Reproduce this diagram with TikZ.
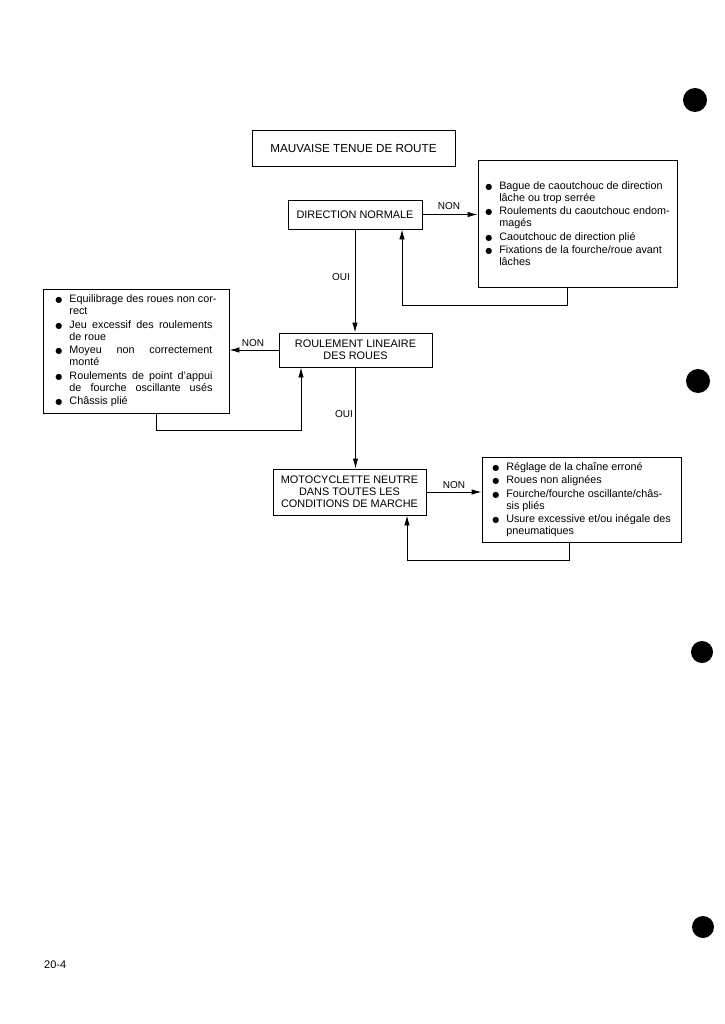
\documentclass[tikz,border=0pt]{standalone}
\usepackage{fontspec}
\setmainfont{Liberation Sans}
\newfontfamily\dejavu{DejaVu Sans}
\usetikzlibrary{arrows.meta}
\newcommand\bul{\makebox[14pt][l]{\dejavu\fontsize{8}{8}\selectfont ●}}
\newcommand\ind{\hspace*{14pt}}
\newcommand\jl[2]{\makebox[#1][s]{#2}}
\begin{document}
\begin{tikzpicture}[x=1pt,y=-1pt,
  box/.style={draw, line width=0.9pt, inner sep=0pt, align=center, font=\fontsize{10.9}{12}\selectfont},
  lst/.style={draw, line width=0.9pt, inner sep=0pt, align=left, font=\fontsize{10.8}{12}\selectfont},
  arr/.style={line width=0.9pt, -{Latex[length=10pt,width=5.5pt]}},
  lbl/.style={font=\fontsize{10}{12}\selectfont, inner sep=0pt},
  hole/.style={fill=black}]
\useasboundingbox (0,0) rectangle (724,1024);

\node[box, minimum width=203pt, minimum height=36pt, font=\fontsize{11.7}{14}\selectfont] (title) at (353.5,148.5) {MAUVAISE TENUE DE ROUTE};
\node[box, minimum width=134pt, minimum height=29pt] (dir) at (355,214.5) {DIRECTION NORMALE};
\node[lst, minimum width=199pt, minimum height=127pt] (b1) at (577.5,223.5) {%
\bul Bague de caoutchouc de direction\\
\ind lâche ou trop serrée\\[1.5pt]
\bul Roulements du caoutchouc endom-\\
\ind magés\\[1.5pt]
\bul Caoutchouc de direction plié\\[1.5pt]
\bul Fixations de la fourche/roue avant\\
\ind lâches};
\node[box, minimum width=153pt, minimum height=34pt] (roul) at (355.5,350) {ROULEMENT LINEAIRE\\DES ROUES};
\node[lst, minimum width=186pt, minimum height=124pt] (b2) at (136,351) {%
\bul Equilibrage des roues non cor-\\
\ind rect\\[1.5pt]
\bul \jl{143pt}{Jeu excessif des roulements}\\
\ind de roue\\[1.5pt]
\bul \jl{143pt}{Moyeu non correctement}\\
\ind monté\\[1.5pt]
\bul \jl{143pt}{Roulements de point d'appui}\\
\ind \jl{143pt}{de fourche oscillante usés}\\[1.5pt]
\bul Châssis plié};
\node[box, minimum width=153pt, minimum height=46pt] (moto) at (349.5,492) {MOTOCYCLETTE NEUTRE\\DANS TOUTES LES\\CONDITIONS DE MARCHE};
\node[lst, minimum width=199pt, minimum height=85pt] (b3) at (581.5,499.5) {%
\bul Réglage de la chaîne erroné\\[1.5pt]
\bul Roues non alignées\\[1.5pt]
\bul Fourche/fourche oscillante/châs-\\
\ind sis pliés\\[1.5pt]
\bul Usure excessive et/ou inégale des\\
\ind pneumatiques};

% main flow
\draw[arr] (dir.south) -- (dir.south |- roul.north);
\draw[arr] (roul.south) -- (roul.south |- moto.north);
\draw[arr] (dir.east) -- (dir.east -| b1.west);
\draw[arr] (roul.west) -- (roul.west -| b2.east);
\draw[arr] (moto.east) -- (moto.east -| b3.west);

% feedback loops
\coordinate (c1a) at (567,305); \coordinate (c1b) at (402,305);
\draw[arr] (b1.south -| c1a) -- (c1a) -- (c1b) -- (c1b |- dir.south);
\coordinate (c2a) at (156,430); \coordinate (c2b) at (301,430);
\draw[arr] (b2.south -| c2a) -- (c2a) -- (c2b) -- (c2b |- roul.south);
\coordinate (c3a) at (569,560); \coordinate (c3b) at (407,560);
\draw[arr] (b3.south -| c3a) -- (c3a) -- (c3b) -- (c3b |- moto.south);

% labels
\node[lbl] (n1) at (449,206) {NON};
\node[lbl] (o1) at (341,277) {OUI};
\node[lbl] (n2) at (253,343) {NON};
\node[lbl] (o2) at (344,414) {OUI};
\node[lbl] (n3) at (454,485) {NON};

% punch holes
\fill[hole] (695,100) circle (12pt);
\fill[hole] (698,381) circle (12pt);
\fill[hole] (702,652) circle (11pt);
\fill[hole] (703,927) circle (11pt);

\node[anchor=west, inner sep=0pt, font=\fontsize{11}{13}\selectfont] (pg) at (44,965) {20-4};
\end{tikzpicture}
\end{document}
